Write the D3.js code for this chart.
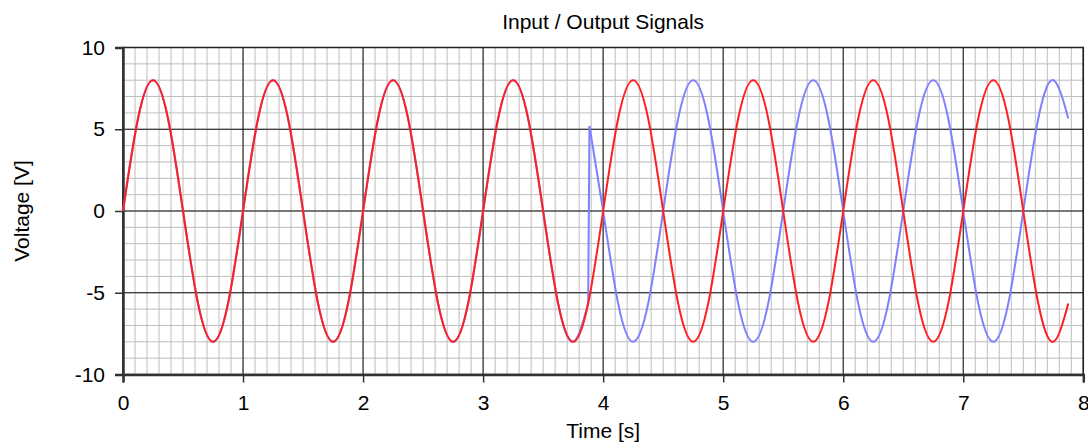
<!DOCTYPE html>
<html>
<head>
<meta charset="utf-8">
<script src="https://cdn.jsdelivr.net/npm/d3@7"></script>
<style>
  body { margin: 0; background: #fff; }
  text { font-family: "Liberation Sans", Arial, sans-serif; }
</style>
</head>
<body>
<div class="chart"></div>
<script>
// sample times (s), every 1/8 s
const time = [
  0, 0.125, 0.25, 0.375, 0.5, 0.625, 0.75, 0.875,
  1, 1.125, 1.25, 1.375, 1.5, 1.625, 1.75, 1.875,
  2, 2.125, 2.25, 2.375, 2.5, 2.625, 2.75, 2.875,
  3, 3.125, 3.25, 3.375, 3.5, 3.625, 3.75, 3.875,
  4, 4.125, 4.25, 4.375, 4.5, 4.625, 4.75, 4.875,
  5, 5.125, 5.25, 5.375, 5.5, 5.625, 5.75, 5.875,
  6, 6.125, 6.25, 6.375, 6.5, 6.625, 6.75, 6.875,
  7, 7.125, 7.25, 7.375, 7.5, 7.625, 7.75, 7.875
];

// red signal (V)
const redValues = [
  0, 5.66, 8, 5.66, 0, -5.66, -8, -5.66,
  0, 5.66, 8, 5.66, 0, -5.66, -8, -5.66,
  0, 5.66, 8, 5.66, 0, -5.66, -8, -5.66,
  0, 5.66, 8, 5.66, 0, -5.66, -8, -5.66,
  0, 5.66, 8, 5.66, 0, -5.66, -8, -5.66,
  0, 5.66, 8, 5.66, 0, -5.66, -8, -5.66,
  0, 5.66, 8, 5.66, 0, -5.66, -8, -5.66,
  0, 5.66, 8, 5.66, 0, -5.66, -8, -5.66
];

// blue signal before the jump (follows the red one)
const blueTimeA = [
  0, 0.125, 0.25, 0.375, 0.5, 0.625, 0.75, 0.875,
  1, 1.125, 1.25, 1.375, 1.5, 1.625, 1.75, 1.875,
  2, 2.125, 2.25, 2.375, 2.5, 2.625, 2.75, 2.875,
  3, 3.125, 3.25, 3.375, 3.5, 3.625, 3.75, 3.875
];
const blueValuesA = [
  0, 5.66, 8, 5.66, 0, -5.66, -8, -5.66,
  0, 5.66, 8, 5.66, 0, -5.66, -8, -5.66,
  0, 5.66, 8, 5.66, 0, -5.66, -8, -5.66,
  0, 5.66, 8, 5.66, 0, -5.66, -8, -5.66
];

// blue signal after the jump (inverted)
const blueTimeB = [
  3.886, 4, 4.125, 4.25, 4.375, 4.5, 4.625, 4.75, 4.875,
  5, 5.125, 5.25, 5.375, 5.5, 5.625, 5.75, 5.875,
  6, 6.125, 6.25, 6.375, 6.5, 6.625, 6.75, 6.875,
  7, 7.125, 7.25, 7.375, 7.5, 7.625, 7.75, 7.875
];
const blueValuesB = [
  5.2, 0, -5.66, -8, -5.66, 0, 5.66, 8, 5.66,
  0, -5.66, -8, -5.66, 0, 5.66, 8, 5.66,
  0, -5.66, -8, -5.66, 0, 5.66, 8, 5.66,
  0, -5.66, -8, -5.66, 0, 5.66, 8, 5.66
];

const xTicks = [0, 1, 2, 3, 4, 5, 6, 7, 8];
const yTicks = [-10, -5, 0, 5, 10];

var width = 1088;
var height = 445;
var margin = { top: 47.5, right: 4.7, bottom: 70.5, left: 123 };
var w = width - margin.left - margin.right;
var h = height - margin.top - margin.bottom;

var svg = d3.select(".chart").append("svg")
    .attr("width", width)
    .attr("height", height);

var x = d3.scaleLinear().domain([0, 8]).range([0, w]);
var y = d3.scaleLinear().domain([-10, 10]).range([h, 0]);

var g = svg.append("g")
    .attr("transform", "translate(" + margin.left + "," + margin.top + ")");

// minor grid
g.selectAll(".minor-x")
    .data(x.ticks(80))
    .enter().append("line")
    .attr("x1", d => x(d)).attr("x2", d => x(d))
    .attr("y1", 0).attr("y2", h)
    .attr("stroke", "#bdbdbd").attr("stroke-width", 1);

g.selectAll(".minor-y")
    .data(y.ticks(20))
    .enter().append("line")
    .attr("x1", 0).attr("x2", w)
    .attr("y1", d => y(d)).attr("y2", d => y(d))
    .attr("stroke", "#bdbdbd").attr("stroke-width", 1);

// major grid
g.selectAll(".major-x")
    .data(xTicks)
    .enter().append("line")
    .attr("x1", d => x(d)).attr("x2", d => x(d))
    .attr("y1", 0).attr("y2", h)
    .attr("stroke", "#333").attr("stroke-width", 1.2);

g.selectAll(".major-y")
    .data(yTicks)
    .enter().append("line")
    .attr("x1", 0).attr("x2", w)
    .attr("y1", d => y(d)).attr("y2", d => y(d))
    .attr("stroke", "#111").attr("stroke-width", 1.2);

// frame
g.append("rect")
    .attr("width", w).attr("height", h)
    .attr("fill", "none")
    .attr("stroke", "#222").attr("stroke-width", 1.5);

// axes (plain hyphen for negative numbers, as in the original)
var fmt = d => String(d);

var xAxis = g.append("g")
    .attr("transform", "translate(0," + h + ")")
    .call(d3.axisBottom(x).tickValues(xTicks).tickSize(8).tickPadding(13).tickFormat(fmt));

var yAxis = g.append("g")
    .call(d3.axisLeft(y).tickValues(yTicks).tickSize(8).tickPadding(10).tickFormat(fmt));

[xAxis, yAxis].forEach(a => {
    a.select(".domain").attr("stroke", "#333").attr("stroke-width", 2.5);
    a.selectAll(".tick line").attr("stroke", "#333").attr("stroke-width", 1.5);
    a.selectAll(".tick text")
        .attr("fill", "#000")
        .style("font-size", "21px")
        .style("font-family", '"Liberation Sans", Arial, sans-serif');
});

// curves
var line = d3.line()
    .x(d => x(d[0]))
    .y(d => y(d[1]))
    .curve(d3.curveNatural);

var straight = d3.line()
    .x(d => x(d[0]))
    .y(d => y(d[1]));

var blueA = blueTimeA.map((t, i) => [t, blueValuesA[i]]);
var blueB = blueTimeB.map((t, i) => [t, blueValuesB[i]]);
var red = time.map((t, i) => [t, redValues[i]]);

var blueColor = "#8080ff";
var redColor = "#ff1f1f";

g.append("path").attr("d", line(blueA))
    .attr("fill", "none").attr("stroke", blueColor).attr("stroke-width", 2);
g.append("path").attr("d", straight([blueA[blueA.length - 1], blueB[0]]))
    .attr("fill", "none").attr("stroke", blueColor).attr("stroke-width", 2);
g.append("path").attr("d", line(blueB))
    .attr("fill", "none").attr("stroke", blueColor).attr("stroke-width", 2);

g.append("path").attr("d", line(red))
    .attr("fill", "none").attr("stroke", redColor).attr("stroke-width", 2);

// titles
svg.append("text")
    .attr("x", margin.left + w / 2).attr("y", 29)
    .attr("text-anchor", "middle")
    .style("font-size", "21px")
    .text("Input / Output Signals");

svg.append("text")
    .attr("x", margin.left + w / 2).attr("y", 438)
    .attr("text-anchor", "middle")
    .style("font-size", "21px")
    .text("Time [s]");

svg.append("text")
    .attr("transform", "translate(29," + (margin.top + h / 2) + ") rotate(-90)")
    .attr("text-anchor", "middle")
    .style("font-size", "21px")
    .text("Voltage [V]");
</script>
</body>
</html>
